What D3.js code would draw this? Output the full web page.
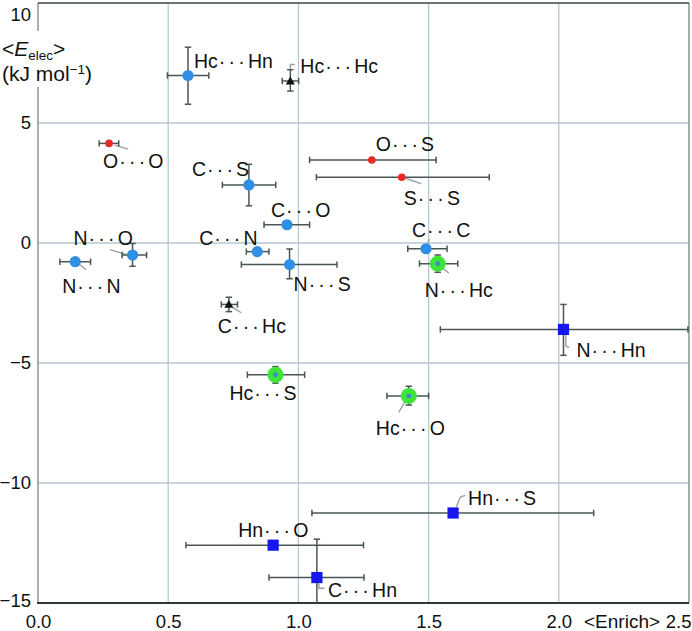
<!DOCTYPE html>
<html><head><meta charset="utf-8">
<script src="https://cdn.jsdelivr.net/npm/d3@7/dist/d3.min.js"></script>
<style>
html,body{margin:0;padding:0;background:#fff;}
svg{display:block;font-family:"Liberation Sans",Arial,Helvetica,sans-serif;}
</style></head>
<body>
<svg id="chart" width="692" height="631"></svg>
<script>
// ---------------- data ----------------
const contacts   = ["Hc···Hn","Hc···Hc","O···O","O···S","S···S","C···S","C···O","C···N","N···S","N···O","N···N","C···C","N···Hc","C···Hc","N···Hn","Hc···S","Hc···O","Hn···S","Hn···O","C···Hn"];
const kinds      = ["blue","tri","red","red","red","blue","blue","blue","blue","blue","blue","blue","green","tri","square","green","green","square","square","square"];
const enrich     = [0.576,0.969,0.273,1.282,1.397,0.810,0.956,0.842,0.966,0.363,0.143,1.490,1.535,0.733,2.018,0.912,1.424,1.594,0.903,1.071];
const enrichLow  = [0.497,0.938,0.235,1.043,1.069,0.708,0.868,0.800,0.781,0.323,0.084,1.420,1.465,0.704,1.545,0.804,1.340,1.052,0.568,0.887];
const enrichHigh = [0.656,1.001,0.310,1.529,1.733,0.913,1.043,0.887,1.148,0.417,0.202,1.571,1.612,0.766,2.496,1.024,1.500,2.134,1.250,1.252];
const eelec      = [6.98,6.75,4.15,3.46,2.74,2.42,0.76,-0.36,-0.90,-0.50,-0.78,-0.24,-0.86,-2.56,-3.60,-5.49,-6.37,-11.25,-12.59,-13.94];
const eelecLow   = [5.78,6.33,null,null,null,1.55,0.62,-0.46,-1.49,-0.97,null,-0.38,-1.22,-2.86,-4.68,-5.84,-6.75,null,null,-15.54];
const eelecHigh  = [8.16,7.22,null,null,null,3.28,0.90,-0.26,-0.25,-0.02,null,-0.10,-0.50,-2.26,-2.56,-5.15,-5.97,null,null,-12.34];
const xTicks = [0.0,0.5,1.0,1.5,2.0,2.5];
const yTicks = [10,5,0,-5,-10,-15];

// ---------------- layout (pixel offsets from the point) ----------------
const labelPos = {
  "Hc···Hn":[6,-7], "Hc···Hc":[10,-8], "O···O":[-6,25], "O···S":[4,-9], "S···S":[2,28],
  "C···S":[-57,-9], "C···O":[-16,-8], "C···N":[-58,-7], "N···S":[4,26], "N···O":[-59,-10],
  "N···N":[-13,31], "C···C":[-14,-12], "N···Hc":[-13,33], "C···Hc":[-11,29], "N···Hn":[13,28],
  "Hc···S":[-46,25], "Hc···O":[-33,39], "Hn···S":[15,-8], "Hn···O":[-35,-8], "C···Hn":[11,19]
};
const leaders = {
  "Hc···Hc":[[0,-12],[0,-16.5],[4.5,-16.5]],
  "O···O":[[5.5,1.7],[19,5.7]],
  "N···O":[[-22.7,-5.3],[-6,-0.3]],
  "N···N":[[4.7,3],[10.7,8]],
  "S···S":[[1,0],[19.7,6.7]],
  "C···C":[[1.6,-5],[3.3,-9.7]],
  "N···Hc":[[5,4.3],[11,9.3]],
  "C···Hc":[[3.7,3],[12.4,8.3]],
  "N···Hn":[[2.4,5],[2.4,16.7],[5.7,18.3]],
  "Hc···O":[[-3.5,5],[-10.1,16.6]],
  "Hn···S":[[3.3,-6.3],[7.3,-16],[12,-17.6]],
  "C···Hn":[[2,5.7],[2,10.7],[7.7,10.7]]
};

const M = {left:38, right:689, top:3, bottom:603};
const svg = d3.select("#chart");
const x = d3.scaleLinear().domain([0,2.5]).range([M.left, M.right]);
const y = d3.scaleLinear().domain([-15,10]).range([M.bottom, M.top]);

svg.append("defs").append("clipPath").attr("id","plot")
  .append("rect").attr("x",M.left).attr("y",M.top).attr("width",M.right-M.left).attr("height",M.bottom-M.top);

// gridlines
const grid = svg.append("g").attr("stroke","#b4c9d0").attr("stroke-width",1.3);
grid.selectAll(".gx").data(xTicks.filter(t=>t>0&&t<2.5)).join("line")
  .attr("x1",d=>x(d)).attr("x2",d=>x(d)).attr("y1",M.top).attr("y2",M.bottom);
grid.selectAll(".gy").data(yTicks.filter(t=>t>-15&&t<10)).join("line")
  .attr("y1",d=>y(d)).attr("y2",d=>y(d)).attr("x1",M.left).attr("x2",M.right);

// frame
svg.append("line").attr("x1",M.left).attr("x2",M.left).attr("y1",M.top).attr("y2",M.bottom).attr("stroke","#8a9494").attr("stroke-width",1.5);
svg.append("line").attr("x1",M.right).attr("x2",M.right).attr("y1",M.top).attr("y2",M.bottom).attr("stroke","#6e7777").attr("stroke-width",1.2);
svg.append("line").attr("x1",M.left).attr("x2",M.right).attr("y1",M.top).attr("y2",M.top).attr("stroke","#3a4444").attr("stroke-width",1.5);

// axes (tick labels only)
const xAxis = d3.axisBottom(x).tickValues(xTicks).tickFormat(d3.format(".1f")).tickSize(0).tickPadding(7);
const gx = svg.append("g").attr("transform",`translate(0,${M.bottom})`).call(xAxis);
gx.select(".domain").remove();
gx.selectAll("text").attr("font-size",18.5).attr("font-family","Liberation Sans, Arial, sans-serif").attr("fill","#111").attr("dy","0.95em");
gx.selectAll(".tick").filter(d=>d===2.5).select("text").attr("text-anchor","end").attr("x",2);

const yAxis = d3.axisLeft(y).tickValues(yTicks).tickFormat(d=>d<0?"\u2212"+Math.abs(d):d).tickSize(0).tickPadding(7);
const gy = svg.append("g").attr("transform",`translate(${M.left},0)`).call(yAxis);
gy.select(".domain").remove();
gy.selectAll("text").attr("font-size",18.5).attr("font-family","Liberation Sans, Arial, sans-serif").attr("fill","#111");
gy.selectAll(".tick").filter(d=>d===10).select("text").attr("dy","0.95em");
gy.selectAll(".tick").filter(d=>d===-15).select("text").attr("dy","0.2em");

// bottom axis line
svg.append("line").attr("x1",M.left-1).attr("x2",M.right).attr("y1",M.bottom).attr("y2",M.bottom).attr("stroke","#2f3838").attr("stroke-width",2.2);

// y title with white background
svg.append("rect").attr("x",0).attr("y",31).attr("width",97).attr("height",56).attr("fill","#fff");
const yt = svg.append("text").attr("font-size",21).attr("fill","#111");
const l1 = yt.append("tspan").attr("x",2).attr("y",56);
l1.append("tspan").text("<");
l1.append("tspan").attr("font-style","italic").text("E");
l1.append("tspan").attr("font-size",13.5).attr("dy",4).text("elec");
l1.append("tspan").attr("dy",-4).text(">");
const l2 = yt.append("tspan").attr("x",2).attr("y",81);
l2.append("tspan").text("(kJ mol");
l2.append("tspan").attr("font-size",13.5).attr("dy",-7).text("\u22121");
l2.append("tspan").attr("dy",7).text(")");

// x title
svg.append("text").attr("x",584).attr("y",628).attr("font-size",19).attr("fill","#111").text("<Enrich>");

// data rows
const rows = contacts.map((c,i)=>({c, kind:kinds[i], x:enrich[i], y:eelec[i], xl:enrichLow[i], xh:enrichHigh[i], yl:eelecLow[i], yh:eelecHigh[i]}));

const plot = svg.append("g").attr("clip-path","url(#plot)");

// leader lines
const lg = plot.append("g").attr("fill","none").attr("stroke","#9aa0a0").attr("stroke-width",1.4);
rows.filter(r=>leaders[r.c]).forEach(r=>{
  const px=x(r.x), py=y(r.y);
  lg.append("path").attr("d", d3.line()(leaders[r.c].map(p=>[px+p[0],py+p[1]])));
});

// error bars
const eb = plot.append("g").attr("stroke","#4a5656").attr("stroke-width",1.5).attr("fill","none");
const cap = 3.2;
rows.forEach(r=>{
  const px=x(r.x), py=y(r.y);
  eb.append("line").attr("x1",x(r.xl)).attr("x2",x(r.xh)).attr("y1",py).attr("y2",py);
  eb.append("line").attr("x1",x(r.xl)).attr("x2",x(r.xl)).attr("y1",py-cap).attr("y2",py+cap);
  eb.append("line").attr("x1",x(r.xh)).attr("x2",x(r.xh)).attr("y1",py-cap).attr("y2",py+cap);
  if(r.yl!==null){
    eb.append("line").attr("x1",px).attr("x2",px).attr("y1",y(r.yl)).attr("y2",y(r.yh));
    eb.append("line").attr("x1",px-cap).attr("x2",px+cap).attr("y1",y(r.yl)).attr("y2",y(r.yl));
    eb.append("line").attr("x1",px-cap).attr("x2",px+cap).attr("y1",y(r.yh)).attr("y2",y(r.yh));
  }
});

// markers
const mk = svg.append("g");
rows.forEach(r=>{
  const px=x(r.x), py=y(r.y);
  if(r.kind==="blue"){
    mk.append("circle").attr("cx",px).attr("cy",py).attr("r",5.6).attr("fill","#2f8fe4");
  } else if(r.kind==="red"){
    mk.append("path").attr("transform",`translate(${px},${py})`)
      .attr("d", d3.symbol().type(d3.symbolCircle).size(46)()).attr("fill","#ea2a22");
  } else if(r.kind==="tri"){
    mk.append("path").attr("transform",`translate(${px},${py+0.8})`)
      .attr("d", d3.symbol().type(d3.symbolTriangle).size(36)()).attr("fill","#111");
  } else if(r.kind==="green"){
    mk.append("circle").attr("cx",px).attr("cy",py).attr("r",8).attr("fill","#3ee43a");
    mk.append("circle").attr("cx",px).attr("cy",py).attr("r",2.4).attr("fill","#3a8cc8");
  } else if(r.kind==="square"){
    mk.append("rect").attr("x",px-5.6).attr("y",py-5.6).attr("width",11.2).attr("height",11.2).attr("fill","#1616ee");
  }
});

// labels
const lab = svg.append("g").attr("font-size",19.5).attr("fill","#111");
rows.forEach(r=>{
  const o = labelPos[r.c];
  const parts = r.c.split("···");
  const t = lab.append("text").attr("x",x(r.x)+o[0]).attr("y",y(r.y)+o[1]);
  t.append("tspan").text(parts[0]);
  t.append("tspan").attr("letter-spacing","3.2px").attr("dx",1).text("···");
  t.append("tspan").text(parts[1]);
});
</script>
</body></html>
